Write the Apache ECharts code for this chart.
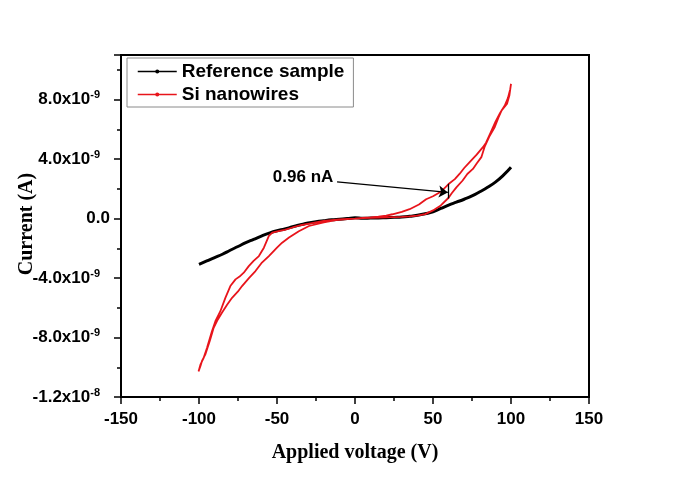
<!DOCTYPE html>
<html>
<head>
<meta charset="utf-8">
<script src="https://cdn.jsdelivr.net/npm/echarts@6/dist/echarts.min.js"></script>
<style>html,body{margin:0;padding:0;background:#fff}#c{width:685px;height:478px}</style>
</head>
<body>
<div id="c"></div>
<script>
// Reference sample (voltage V, current nA)
const refV = [-100,-95,-90,-85,-80,-75,-70,-65,-60,-55,-50,-45,-40,-35,-30,-25,-20,-15,-10,-5,0,5,10,15,20,25,30,35,40,45,50,55,60,65,70,75,80,85,90,95,100];
const refI = [-3.08,-2.85,-2.62,-2.40,-2.13,-1.88,-1.62,-1.40,-1.18,-0.98,-0.82,-0.70,-0.55,-0.42,-0.30,-0.21,-0.14,-0.08,-0.04,0.0,0.05,0.02,0.03,0.04,0.06,0.08,0.10,0.15,0.22,0.32,0.45,0.68,0.90,1.10,1.30,1.52,1.80,2.10,2.45,2.90,3.45];

// Si nanowires loop (voltage V, current nA)
const siV = [0,5,10,15,20,25,30,35,40,45,50,55,60,62,65,69,72,75.6,78,81,83,86,89.6,92,94,97.5,99,100,
  99.5,98,96,93,90,87,84,82,78,73.5,70,67,64,60,55,50,45.6,41,35,30,24,20,15,10,5,0,
  -5,-10,-15,-20,-25,-30,-35,-40,-45,-49,-53,-55.2,-58.4,-61.6,-65,-68.1,-71.3,-74,-76.6,-79.9,-83.1,-86.3,-89.5,-91.7,-94.9,-97,-99,-100.3,
  -99,-98,-96,-93,-90.6,-88,-85.3,-82,-78.8,-75,-72.4,-68,-63.8,-60,-55.2,-50,-46.7,-42.3,-36,-29.5,-20,-12.3,-5,0];
const siI = [0,0.03,0.05,0.06,0.08,0.10,0.12,0.15,0.20,0.30,0.55,0.88,1.40,1.70,2.10,2.56,3.00,3.34,3.70,4.13,4.80,5.50,6.16,6.80,7.28,7.73,8.30,9.05,
  8.70,8.10,7.60,7.10,6.50,5.80,5.10,4.80,4.30,3.80,3.40,3.00,2.65,2.32,1.80,1.50,1.30,0.95,0.63,0.45,0.29,0.20,0.13,0.08,0.04,0.0,
  -0.02,-0.05,-0.10,-0.16,-0.25,-0.35,-0.45,-0.60,-0.76,-0.84,-0.95,-1.17,-1.96,-2.52,-2.85,-3.20,-3.64,-3.90,-4.09,-4.54,-5.33,-6.23,-6.90,-7.58,-8.70,-9.37,-9.80,-10.28,
  -9.90,-9.55,-9.15,-8.20,-7.35,-6.80,-6.34,-5.80,-5.33,-4.90,-4.54,-4.00,-3.53,-3.00,-2.52,-1.95,-1.62,-1.28,-0.85,-0.50,-0.25,-0.10,-0.03,0.0];

const seriesNames = ['Reference sample', 'Si nanowires'];
const annotationText = '0.96 nA';
const annotArrow = [[-11.5, 2.47], [59.5, 1.76]];
const annotBracket = [[60, 2.34], [60, 1.35]];
const annotTextPos = [-33.3, 2.77];

const zip = (a, b) => a.map((v, i) => [v, b[i]]);

const fontSans = 'Liberation Sans, Arial, sans-serif';
const fontSerif = 'Liberation Serif, Times New Roman, serif';

function yFmt(v) {
  if (Math.abs(v) < 1e-9) return '{b|0.0}';
  if (Math.abs(v) >= 10) return '{b|' + (v / 10).toFixed(1) + 'x10}{s|-8}';
  return '{b|' + v.toFixed(1) + 'x10}{s|-9}';
}

const chart = echarts.init(document.getElementById('c'), null, {renderer: 'canvas'});
chart.setOption({
  animation: false,
  backgroundColor: '#fff',
  grid: {left: 121, right: 96, top: 55, bottom: 81, show: true, borderColor: '#000', borderWidth: 2,
         backgroundColor: 'transparent', outerBoundsMode: 'none', containLabel: false},
  legend: {
    data: seriesNames,
    orient: 'vertical',
    left: 127, top: 58,
    padding: [2, 9, 1, 10],
    itemGap: 0,
    itemWidth: 39, itemHeight: 5,
    borderColor: '#8a8a8a', borderWidth: 1,
    lineStyle: {width: 1.5},
    textStyle: {fontFamily: fontSans, fontWeight: 'bold', fontSize: 19, color: '#000', lineHeight: 23}
  },
  xAxis: {
    type: 'value', min: -150, max: 150, interval: 50,
    name: 'Applied voltage (V)', nameLocation: 'middle', nameGap: 46, nameMoveOverlap: false,
    nameTextStyle: {fontFamily: fontSerif, fontWeight: 'bold', fontSize: 20, color: '#000'},
    axisLine: {onZero: false, lineStyle: {color: '#000', width: 2}},
    axisTick: {show: true, inside: false, length: 7, lineStyle: {color: '#000', width: 1.5}},
    minorTick: {show: true, splitNumber: 2, length: 4, lineStyle: {color: '#000', width: 1.5}},
    splitLine: {show: false},
    axisLabel: {margin: 14, fontFamily: fontSans, fontWeight: 'bold', fontSize: 17, color: '#000'}
  },
  yAxis: {
    type: 'value', min: -12, max: 11, interval: 4,
    name: 'Current (A)', nameLocation: 'middle', nameGap: 84, nameRotate: 90, nameMoveOverlap: false,
    nameTextStyle: {fontFamily: fontSerif, fontWeight: 'bold', fontSize: 20, color: '#000', padding: [0, 0, 0, 4]},
    axisLine: {onZero: false, lineStyle: {color: '#000', width: 2}},
    axisTick: {show: true, inside: false, length: 7, lineStyle: {color: '#000', width: 1.5}},
    minorTick: {show: true, splitNumber: 2, length: 4, lineStyle: {color: '#000', width: 1.5}},
    splitLine: {show: false},
    axisLabel: {
      margin: 11, showMaxLabel: false,
      formatter: yFmt,
      rich: {
        b: {fontFamily: fontSans, fontWeight: 'bold', fontSize: 17, color: '#000'},
        s: {fontFamily: fontSans, fontWeight: 'bold', fontSize: 11, color: '#000', padding: [0, 10, 9, 0]}
      }
    }
  },
  series: [
    {
      name: seriesNames[0], type: 'line', data: zip(refV, refI),
      symbol: 'circle', symbolSize: 3, showSymbol: false, smooth: true,
      color: '#000', lineStyle: {color: '#000', width: 3}
    },
    {
      name: seriesNames[1], type: 'line', data: zip(siV, siI),
      symbol: 'circle', symbolSize: 3, showSymbol: false,
      color: '#e8141b', lineStyle: {color: '#e8141b', width: 1.8},
      markLine: {
        silent: true, animation: false,
        lineStyle: {color: '#000', width: 1.3, type: 'solid'},
        label: {show: false},
        symbol: ['none', 'arrow'], symbolSize: 9,
        data: [
          [{coord: annotArrow[0], symbol: 'none'}, {coord: annotArrow[1], symbol: 'arrow'}],
          [{coord: annotBracket[0], symbol: 'none'}, {coord: annotBracket[1], symbol: 'none'}]
        ]
      },
      markPoint: {
        silent: true, animation: false,
        symbol: 'circle', symbolSize: 0,
        label: {show: true, position: 'inside', formatter: annotationText, fontFamily: fontSans, fontWeight: 'bold', fontSize: 17, color: '#000'},
        data: [{coord: annotTextPos}]
      }
    }
  ]
});
</script>
</body>
</html>
